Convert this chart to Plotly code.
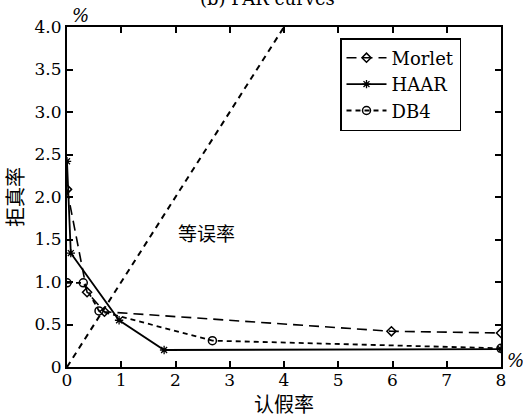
import plotly.graph_objects as go

# Data
morlet_x = [0.0, 0.37, 0.69, 5.98, 8.0]
morlet_y = [2.09, 0.88, 0.65, 0.42, 0.40]

haar_x = [0.0, 0.07, 0.96, 1.79, 8.0]
haar_y = [2.42, 1.34, 0.55, 0.20, 0.21]

db4_x = [0.0, 0.30, 0.59, 2.68, 8.0]
db4_y = [0.99, 0.99, 0.66, 0.31, 0.22]

eer_x = [0.0, 4.0]
eer_y = [0.0, 4.0]

x_ticks = [0, 1, 2, 3, 4, 5, 6, 7, 8]
x_ticktext = ["0", "1", "2", "3", "4", "5", "6", "7", "8"]
y_ticks = [0, 0.5, 1.0, 1.5, 2.0, 2.5, 3.0, 3.5, 4.0]
y_ticktext = ["0", "0.5", "1.0", "1.5", "2.0", "2.5", "3.0", "3.5", "4.0"]

SERIF = "DejaVu Serif"
CJK = "Noto Sans CJK SC"

W, H = 523, 418
ML, MR, MT, MB = 67, 22, 27, 51

fig = go.Figure()

fig.add_trace(go.Scatter(
    x=eer_x, y=eer_y, mode="lines", showlegend=False,
    line=dict(color="black", width=2, dash="6px,5px"),
))
fig.add_trace(go.Scatter(
    x=morlet_x, y=morlet_y, mode="lines+markers", name="Morlet",
    line=dict(color="black", width=1.6, dash="10px,6px"),
    marker=dict(symbol="diamond-open", size=7, color="black", line=dict(width=1.5)),
))
fig.add_trace(go.Scatter(
    x=haar_x, y=haar_y, mode="lines+markers", name="HAAR",
    line=dict(color="black", width=1.8),
    marker=dict(symbol="asterisk-open", size=7, color="black", line=dict(width=1.3)),
))
fig.add_trace(go.Scatter(
    x=db4_x, y=db4_y, mode="lines+markers", name="DB4",
    line=dict(color="black", width=1.8, dash="5px,4px"),
    marker=dict(symbol="circle-open", size=8, color="black", line=dict(width=1.5)),
))

pw, ph = W - ML - MR, H - MT - MB


def px2paper(px, py):
    return (px - ML) / pw, (H - MB - py) / ph


pct1 = px2paper(80, 16)
pct2 = px2paper(515, 360)
eer_lbl = px2paper(206, 232)
leg = px2paper(340, 38)
xt = px2paper(284, 403)

fig.update_layout(
    width=W, height=H,
    margin=dict(l=ML, r=MR, t=MT, b=MB, autoexpand=False),
    paper_bgcolor="white", plot_bgcolor="white",
    font=dict(family=SERIF, size=17, color="black"),
    legend=dict(
        x=leg[0], y=leg[1], xanchor="left", yanchor="top",
        bordercolor="black", borderwidth=1.5, bgcolor="white",
        font=dict(family=SERIF, size=18),
        tracegroupgap=0, itemwidth=40,
        entrywidth=100, entrywidthmode="pixels",
    ),
    xaxis=dict(
        range=[0, 8], tickvals=x_ticks, ticktext=x_ticktext,
        showgrid=False, zeroline=False,
        showline=True, linecolor="black", linewidth=2, mirror="ticks",
        ticks="inside", ticklen=6, tickwidth=1.5, tickcolor="black",
        tickfont=dict(family=SERIF, size=17),
        ticklabelstandoff=-3,
    ),
    yaxis=dict(
        range=[0, 4], tickvals=y_ticks, ticktext=y_ticktext,
        showgrid=False, zeroline=False,
        showline=True, linecolor="black", linewidth=2, mirror="ticks",
        ticks="inside", ticklen=6, tickwidth=1.5, tickcolor="black",
        tickfont=dict(family=SERIF, size=17),
        title=dict(text="拒真率", font=dict(family=CJK, size=20), standoff=8),
    ),
    annotations=[
        dict(text="认假率", x=xt[0], y=xt[1], xref="paper", yref="paper",
             xanchor="center", yanchor="middle",
             showarrow=False, font=dict(family=CJK, size=20)),
        dict(text="等误率", x=eer_lbl[0], y=eer_lbl[1], xref="paper", yref="paper",
             xanchor="center", yanchor="middle",
             showarrow=False, font=dict(family=CJK, size=19)),
        dict(text="%", x=pct1[0], y=pct1[1], xref="paper", yref="paper", showarrow=False,
             xanchor="center", yanchor="middle",
             font=dict(family=SERIF, size=18, style="italic")),
        dict(text="%", x=pct2[0], y=pct2[1], xref="paper", yref="paper", showarrow=False,
             xanchor="center", yanchor="middle",
             font=dict(family=SERIF, size=18, style="italic")),
        dict(text="(b) FAR curves", x=px2paper(267, 0)[0], y=1, xref="paper", yref="paper",
             xanchor="center", yanchor="bottom", yshift=16, showarrow=False,
             font=dict(family=SERIF, size=18)),
    ],
)

fig.write_html(
    "out.html",
    config={"displayModeBar": False},
    post_script="document.body.style.margin='0';document.body.style.padding='0';",
)
